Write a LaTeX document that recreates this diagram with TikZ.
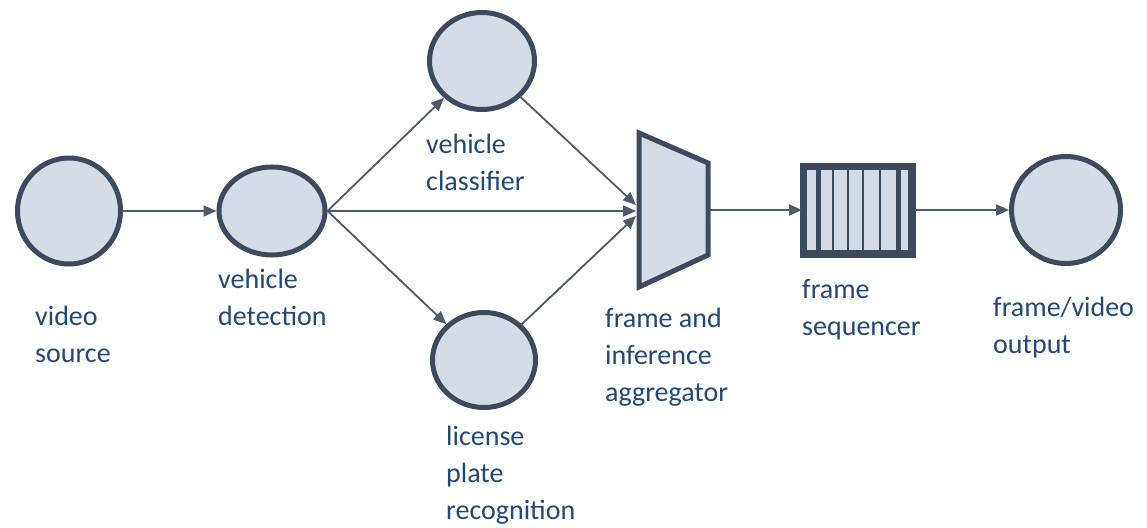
\documentclass[tikz,border=0pt]{standalone}
\usepackage{fontspec}
\setmainfont{Carlito}
\usetikzlibrary{arrows.meta,shapes.geometric}
\definecolor{outl}{RGB}{60,74,94}
\definecolor{fillc}{RGB}{214,220,229}
\definecolor{conn}{RGB}{78,90,106}
\definecolor{txt}{RGB}{33,72,118}
\tikzset{
  proc/.style={ellipse, draw=outl, fill=fillc, line width=5pt, inner sep=0pt},
  lbl/.style={anchor=base west, align=left, inner sep=0pt, text=txt, font=\fontsize{28}{37}\selectfont},
  conline/.style={draw=conn, line width=1.8pt, -{Triangle[length=13pt,width=11pt]}},
  queuebox/.style={rectangle, draw=outl, fill=fillc, line width=5pt, inner sep=0pt, minimum width=106pt, minimum height=85pt},
  thickbar/.style={draw=outl, line width=5pt},
  thinbar/.style={draw=outl, line width=2.2pt}
}
\begin{document}
\begin{tikzpicture}[x=1pt,y=-1pt]
\useasboundingbox (0,0) rectangle (1147,527);
% nodes
\node[proc, minimum width=103pt, minimum height=106pt] (src) at (69,211) {};
\node[proc, minimum width=106pt, minimum height=88pt] (det) at (272,211) {};
\node[proc, minimum width=105pt, minimum height=97pt] (cls) at (482,61) {};
\node[proc, minimum width=103pt, minimum height=95pt] (lpr) at (484,360) {};
\node[proc, minimum width=109pt, minimum height=107pt] (out) at (1066,210) {};
\node[queuebox] (seq) at (857.5,210) {};
% aggregator trapezoid
\draw[draw=outl, fill=fillc, line width=5pt, line join=miter] (639,133) -- (708,163) -- (708,255) -- (639,287) -- cycle;
\coordinate (aggW) at (636,211);
\coordinate (aggWt) at (636,205);
\coordinate (aggWb) at (636,216);
\coordinate (aggE) at (710,210);
% queue bars
\foreach \dx in {16,96} {\draw[thickbar] ([xshift=\dx pt]seq.north west) -- ([xshift=\dx pt]seq.south west);}
\foreach \dx in {31,46,61,78} {\draw[thinbar] ([xshift=\dx pt]seq.north west) -- ([xshift=\dx pt]seq.south west);}
\draw[thickbar] (seq.north west) rectangle (seq.south east);
% connectors
\draw[conline] (src) -- (det);
\draw[conline] (det.east) -- (cls);
\draw[conline] (det.east) -- (lpr);
\draw[conline] (det.east) -- (aggW);
\draw[conline] (cls) -- (aggWt);
\draw[conline] (lpr) -- (aggWb);
\draw[conline] (aggE) -- (seq);
\draw[conline] (seq) -- (out);
% labels (anchor = baseline of last line)
\node[lbl] (lsrc) at (35,362) {video\\source};
\node[lbl] (ldet) at (218,325) {vehicle\\detection};
\node[lbl] (lcls) at (426,190) {vehicle\\classifier};
\node[lbl] (llpr) at (446,519) {license\\plate\\recognition};
\node[lbl] (lagg) at (605,401) {frame and\\inference\\aggregator};
\node[lbl] (lseq) at (802,335) {frame\\sequencer};
\node[lbl] (lout) at (993,353) {frame/video\\output};
\end{tikzpicture}
\end{document}
